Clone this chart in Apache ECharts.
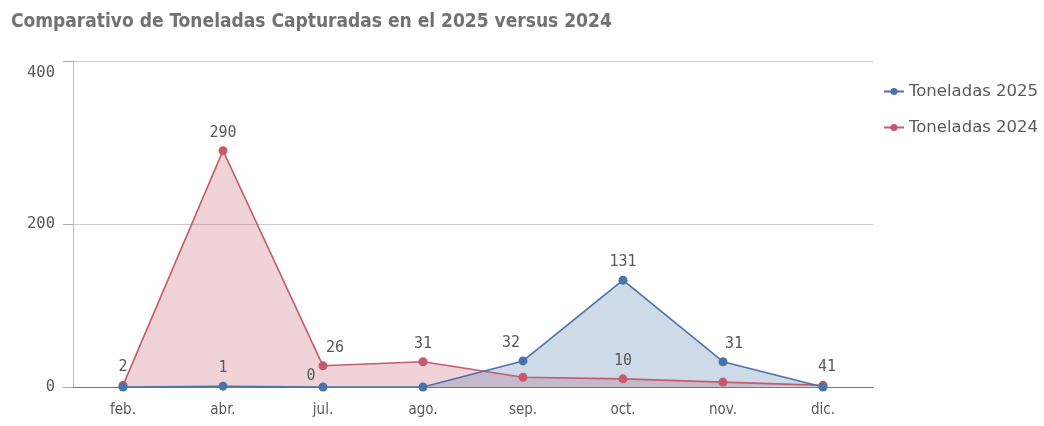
<!DOCTYPE html>
<html>
<head>
<meta charset="utf-8">
<script src="https://cdn.jsdelivr.net/npm/echarts@6/dist/echarts.min.js"></script>
<style>
  html, body { margin: 0; padding: 0; background: #fff; }
  #chart { width: 1044px; height: 426px; }
</style>
</head>
<body>
<div id="chart"></div>
<script>
// datos
const meses = ['feb.', 'abr.', 'jul.', 'ago.', 'sep.', 'oct.', 'nov.', 'dic.'];
const ton2025 = [0, 1, 0, 0, 32, 131, 31, 0];
const ton2024 = [2, 290, 26, 31, 12, 10, 6, 2];
// etiquetas tal como aparecen (null = sin etiqueta)
const etiq2025 = [null, '1', '0', null, '32', '131', '31', null];
const etiq2024 = ['2', '290', '26', '31', null, '10', null, '41'];
const ticksY = [0, 200, 400];

const azul = '#4a73aa';
const rojo = '#c65b6d';
const gris = '#595959';

// desplazamientos de algunas etiquetas
const offs2025 = { 2: [-12, 7], 4: [-12, 0], 6: [11, 0] };
const offs2024 = { 2: [12, 0], 7: [4, 0] };

function serie(name, vals, etiq, offs, color, area) {
  return {
    name: name,
    type: 'line',
    data: vals.map((v, i) => {
      const d = { value: v };
      if (etiq[i] == null) d.label = { show: false };
      else if (offs[i]) d.label = { offset: offs[i] };
      return d;
    }),
    symbol: 'circle',
    symbolSize: 9,
    lineStyle: { width: 1.6, color: color },
    itemStyle: { color: color },
    areaStyle: { color: area },
    label: {
      show: true,
      position: 'top',
      distance: 6,
      color: gris,
      fontFamily: 'DejaVu Sans Mono',
      fontSize: 15,
      formatter: p => etiq[p.dataIndex]
    }
  };
}

const topY = ticksY[ticksY.length - 1];

const chart = echarts.init(document.getElementById('chart'));
chart.setOption({
  animation: false,
  title: {
    text: 'Comparativo de Toneladas Capturadas en el 2025 versus 2024',
    left: 6,
    top: 8,
    textStyle: {
      fontFamily: 'DejaVu Sans Condensed',
      fontWeight: 'bold',
      fontSize: 19,
      color: '#727272'
    }
  },
  legend: {
    orient: 'vertical',
    left: 878,
    top: 78,
    itemGap: 19,
    itemWidth: 20,
    itemHeight: 9,
    textStyle: { fontFamily: 'DejaVu Sans', fontSize: 16.5, color: gris },
    data: ['Toneladas 2025', 'Toneladas 2024']
  },
  grid: { left: 73, right: 171, top: 61, bottom: 39 },
  xAxis: {
    type: 'category',
    data: meses,
    axisLine: { lineStyle: { color: '#777', width: 1.2 } },
    axisTick: { show: false },
    axisLabel: { color: gris, fontFamily: 'DejaVu Sans Condensed', fontSize: 15, margin: 16 }
  },
  yAxis: {
    type: 'value',
    min: ticksY[0],
    max: topY,
    interval: 200,
    axisLine: { show: true, lineStyle: { color: '#bbb' } },
    axisTick: { show: true, inside: false, length: 10, lineStyle: { color: '#aaa' } },
    axisLabel: {
      color: gris, fontFamily: 'DejaVu Sans Mono', fontSize: 15.5, margin: 18,
      // la etiqueta superior va un poco por debajo de su línea
      formatter: v => v === topY ? '{sup|' + v + '}' : String(v),
      rich: { sup: { color: gris, fontFamily: 'DejaVu Sans Mono', fontSize: 15.5, padding: [24, 0, 0, 0] } }
    },
    splitLine: { lineStyle: { color: '#ccc' } }
  },
  series: [
    serie('Toneladas 2024', ton2024, etiq2024, offs2024, rojo, 'rgba(198,91,109,0.38)'),
    serie('Toneladas 2025', ton2025, etiq2025, offs2025, azul, 'rgba(74,115,170,0.38)')
  ]
});
</script>
</body>
</html>
